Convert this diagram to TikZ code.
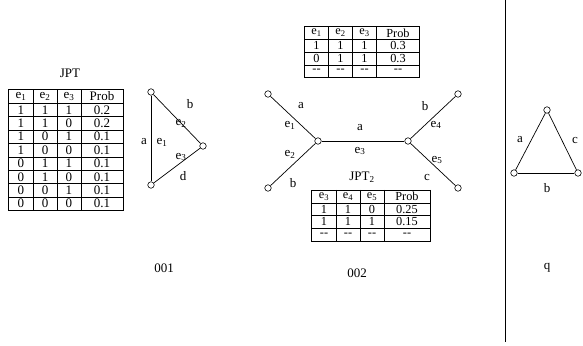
\documentclass[tikz,border=0pt]{standalone}
\usepackage{fontspec}
\setmainfont{Liberation Serif}
\usetikzlibrary{matrix}
\newcommand{\sub}[1]{\textsubscript{#1}}
\newcommand{\tablegrid}[3]{% name, rows, cols
  \draw[line width=0.7pt] (#1-1-1.north west) rectangle (#1-#2-#3.south east);
  \foreach \c in {1,...,#3}{\draw[line width=0.7pt] (#1-1-\c.north east) -- (#1-#2-\c.south east);}
  \foreach \r in {1,...,#2}{\draw[line width=0.7pt] (#1-\r-1.south west) -- (#1-\r-#3.south east);}
}
\begin{document}
\begin{tikzpicture}[x=1pt,y=-1pt, font=\fontsize{13}{14}\selectfont,
  vtx/.style={circle,draw,fill=white,inner sep=0pt,minimum size=6.5pt,line width=0.6pt},
  edge/.style={line width=0.7pt},
  lbl/.style={inner sep=1pt},
  small/.style={nodes={font=\fontsize{12.3}{12.5}\selectfont}},
  tbl/.style 2 args={matrix of nodes, row sep=0pt, column sep=0pt,
    nodes={inner sep=0pt, anchor=center, minimum height=#1},
    column 1/.style={nodes={minimum width=24pt}},
    column 2/.style={nodes={minimum width=24pt}},
    column 3/.style={nodes={minimum width=24pt}},
    column 4/.style={nodes={minimum width=#2}}}]
\useasboundingbox (0,0) rectangle (583,345);

% ---------- 001 ----------
\node[lbl] (jpt) at (70,73) {JPT};
\matrix[tbl={13.4pt}{42pt}] (t1) at (66,150) {
  e\sub{1} & e\sub{2} & e\sub{3} & Prob \\
  1 & 1 & 1 & 0.2 \\
  1 & 1 & 0 & 0.2 \\
  1 & 0 & 1 & 0.1 \\
  1 & 0 & 0 & 0.1 \\
  0 & 1 & 1 & 0.1 \\
  0 & 1 & 0 & 0.1 \\
  0 & 0 & 1 & 0.1 \\
  0 & 0 & 0 & 0.1 \\
};
\tablegrid{t1}{9}{4}

\node[vtx] (p1) at (151,92) {};
\node[vtx] (p2) at (151,185) {};
\node[vtx] (p3) at (203,146) {};
\draw[edge] (p1) -- (p2);
\draw[edge] (p1) -- (p3);
\draw[edge] (p2) -- (p3);
\node[lbl] (lb1) at (190,104) {b};
\node[lbl] (le2a) at (181,123) {e\sub{2}};
\node[lbl] (la1) at (144,142) {a};
\node[lbl] (le1a) at (162,142) {e\sub{1}};
\node[lbl] (le3a) at (181,157) {e\sub{3}};
\node[lbl] (ld1) at (183,176) {d};
\node[lbl] (c001) at (164,268) {001};

% ---------- 002 ----------
\matrix[tbl={12.7pt}{43pt}, small] (t2) at (362,52) {
  e\sub{1} & e\sub{2} & e\sub{3} & Prob \\
  1 & 1 & 1 & 0.3 \\
  0 & 1 & 1 & 0.3 \\
  -{}- & -{}- & -{}- & -{}- \\
};
\tablegrid{t2}{4}{4}

\node[vtx] (lt) at (268,94) {};
\node[vtx] (lb) at (268,188) {};
\node[vtx] (li) at (318,141) {};
\node[vtx] (ri) at (408,141) {};
\node[vtx] (rt) at (458,94) {};
\node[vtx] (rb) at (458,188) {};
\draw[edge] (lt) -- (li);
\draw[edge] (lb) -- (li);
\draw[edge] (li) -- (ri);
\draw[edge] (ri) -- (rt);
\draw[edge] (ri) -- (rb);
\node[lbl] (l2a) at (301,106) {a};
\node[lbl] (l2e1) at (290,125) {e\sub{1}};
\node[lbl] (l2e2) at (290,154) {e\sub{2}};
\node[lbl] (l2b) at (293,183) {b};
\node[lbl] (l2am) at (360,128) {a};
\node[lbl] (l2e3) at (360,151) {e\sub{3}};
\node[lbl] (l2br) at (425,106) {b};
\node[lbl] (l2e4) at (436,125) {e\sub{4}};
\node[lbl] (l2e5) at (437,160) {e\sub{5}};
\node[lbl] (l2c) at (427,177) {c};
\node[lbl] (jpt2) at (362,177) {JPT\sub{2}};

\matrix[tbl={12.7pt}{46pt}, small] (t3) at (371,215.5) {
  e\sub{3} & e\sub{4} & e\sub{5} & Prob \\
  1 & 1 & 0 & 0.25 \\
  1 & 1 & 1 & 0.15 \\
  -{}- & -{}- & -{}- & -{}- \\
};
\tablegrid{t3}{4}{4}
\node[lbl] (c002) at (357,273) {002};

% ---------- divider ----------
\coordinate (dt) at (505,0);
\coordinate (db) at (505,342);
\draw[line width=0.7pt] (dt) -- (db);

% ---------- q ----------
\node[vtx] (qt) at (547,110) {};
\node[vtx] (ql) at (514,173) {};
\node[vtx] (qr) at (578,173) {};
\draw[edge] (qt) -- (ql);
\draw[edge] (qt) -- (qr);
\draw[edge] (ql) -- (qr);
\node[lbl] (qa) at (520,140) {a};
\node[lbl] (qc) at (575,140) {c};
\node[lbl] (qb) at (547,188) {b};
\node[lbl] (cq) at (547,268) {q};
\end{tikzpicture}
\end{document}
